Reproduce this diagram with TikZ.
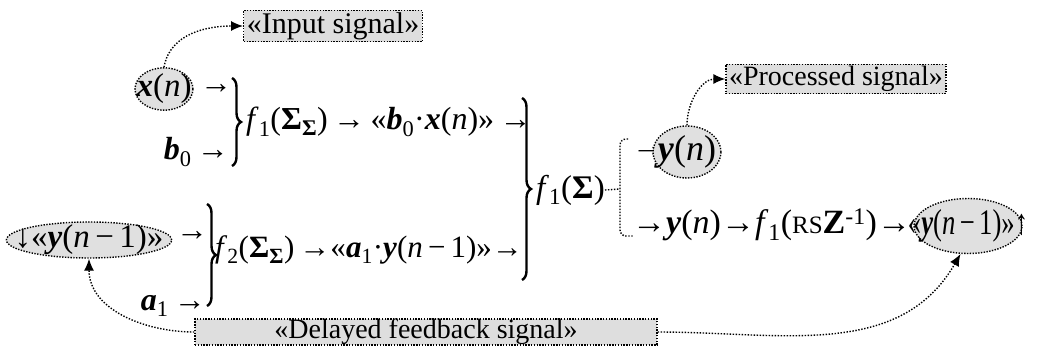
\documentclass[tikz,border=0pt]{standalone}
\usepackage{graphicx}
\usepackage{fontspec}
\setmainfont{Liberation Serif}
\usetikzlibrary{arrows,arrows.meta,shapes,decorations.pathreplacing}
\tikzstyle{sig}=[ellipse,draw,line width=1.4pt,dash pattern=on 1.4pt off 1.4pt,fill=black!12,inner sep=0pt]
\tikzstyle{note}=[rectangle,draw,line width=1.4pt,dash pattern=on 1.4pt off 1.4pt,fill=black!13,inner xsep=3pt,inner ysep=2pt,font=\fontsize{30}{32}\selectfont]
\tikzstyle{darr}=[draw,line width=1.4pt,dash pattern=on 1.4pt off 1.6pt,-{Latex[length=12pt,width=10pt]}]
\tikzstyle{dots}=[draw,line width=1.4pt,dash pattern=on 1.4pt off 1.6pt]
\tikzstyle{brc}=[draw,line width=2.4pt,decorate,decoration={brace,amplitude=9pt}]
\tikzstyle{term}=[inner sep=0pt]
\newcommand{\bv}[1]{\textbf{\textit{#1}}}
\newcommand{\nn}{\textit{n}}
\newcommand{\sbs}[1]{\textsubscript{#1}}
\newcommand{\ra}{→}

\begin{document}
\begin{tikzpicture}[x=1pt,y=1pt,font=\fontsize{32}{38}\selectfont]
    \useasboundingbox (0,0) rectangle (1038,-356);

    % upper branch
    \node[sig,minimum height=38pt,inner xsep=-7pt,font=\fontsize{33}{38}\selectfont] (xn) at (164,-89) {\bv{x}(\nn)};
    \node[term,anchor=west] (xarr) at (200,-89) {\ra};
    \node[term,anchor=east] (bzero) at (229,-152) {\bv{b}\sbs{0}\,\ra};
    \path[brc] (232,-78) -- (232,-166);
    \node[term,anchor=west] (fone) at (246,-122)
        {\textit{f}\sbs{1}(\textbf{Σ}\sbs{\textbf{Σ}})\,\ra\,«\bv{b}\sbs{0}·\bv{x}(\nn)»\,\ra};

    % lower branch
    \node[sig,minimum height=36pt,inner xsep=-16pt,inner ysep=-3pt,font=\fontsize{33}{38}\selectfont] (yfirst) at (89,-240) {↓«\bv{y}(\nn\,−\,1)»};
    \node[term,anchor=west] (yarr) at (176,-236) {\ra};
    \node[term,anchor=east] (aone) at (206,-306) {\bv{a}\sbs{1}\,\ra};
    \path[brc] (207,-204) -- (207,-306);
    \node[term,anchor=west,font=\fontsize{31}{36}\selectfont] (ftwo) at (215,-250)
        {\textit{f}\sbs{2}(\textbf{Σ}\sbs{\textbf{Σ}})\,\ra«\bv{a}\sbs{1}·\bv{y}(\nn\,−\,1)»\ra};

    % summation and split
    \path[brc] (522,-98) -- (522,-280);
    \node[term,anchor=west,font=\fontsize{33}{38}\selectfont] (fsum) at (536,-190) {\textit{f}\sbs{1}(\textbf{Σ})};
    \coordinate (split) at (620,-189);
    \coordinate (stop) at (628,-139);
    \coordinate (sbot) at (634,-236);
    \path[dots] (fsum.east) -- (split);
    \path[dots,rounded corners=6pt] (stop) -- (620,-139) -- (620,-236) -- (sbot);

    \node[term,anchor=west] (yarr2) at (632,-152) {\ra};
    \node[sig,minimum height=52pt,inner xsep=-5pt,font=\fontsize{36}{40}\selectfont] (yn) at (687,-152) {\bv{y}(\nn)};
    \node[term,anchor=west,font=\fontsize{34}{40}\selectfont] (chain) at (632,-225)
        {\ra\bv{y}(\nn)\ra\textit{f}\sbs{1}({\fontsize{25}{28}\selectfont RS}\textbf{Z}\textsuperscript{-1})\ra};
    \node[sig,minimum width=108pt,minimum height=55pt,inner xsep=-30pt,font=\fontsize{36}{40}\selectfont] (ylast) at (968,-226)
        {\scalebox{0.74}[1]{«\bv{y}(\nn\,−\,1)»↑}};

    % signal labels
    \node[note] (inp) at (333,-26) {«Input signal»};
    \node[note,font=\fontsize{28}{30}\selectfont] (proc) at (836,-79) {«Processed signal»};
    \node[note,minimum width=462pt,minimum height=22pt,inner sep=0pt,font=\fontsize{28}{30}\selectfont] (delay) at (426,-332) {«Delayed feedback signal»};

    \path[darr] (xn.north) to [out=80,in=180] (inp.west);
    \path[darr] (yn.north) to [out=90,in=180] (proc.west);
    \path[darr] (delay.west) to [out=180,in=-90] (yfirst.south);
    \path[darr] (delay.east) to [out=0,in=-120] (ylast.255);
\end{tikzpicture}
\end{document}
